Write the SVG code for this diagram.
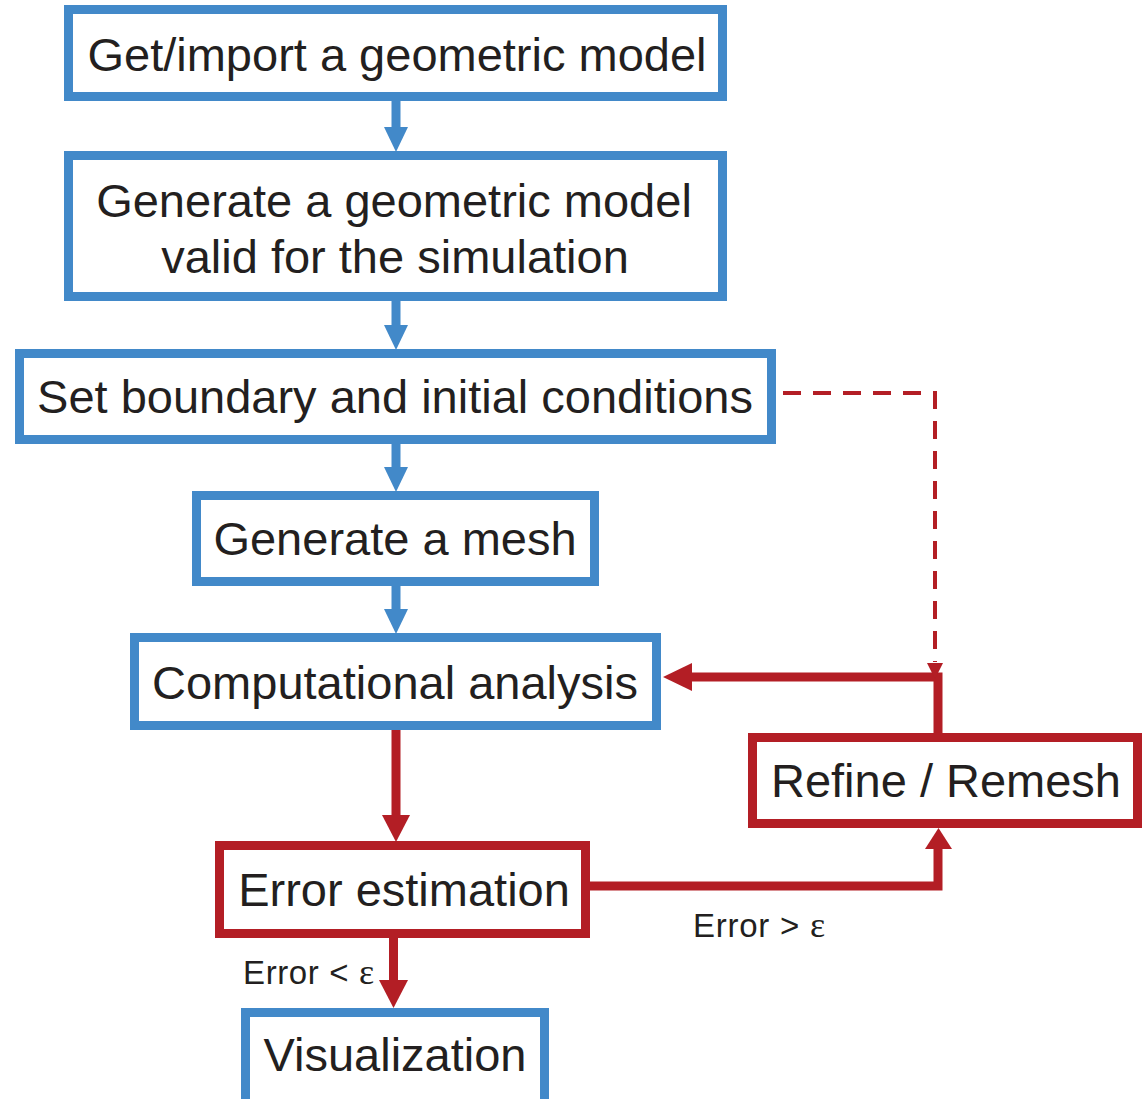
<svg xmlns="http://www.w3.org/2000/svg" width="1148" height="1099" viewBox="0 0 1148 1099">
<defs>
<style>
.box{fill:#fff;stroke-width:9}
.blue{stroke:#4289C9}
.red{stroke:#B31E25}
.t{font-family:"Liberation Sans",Arial,sans-serif;font-size:47px;fill:#231F20;text-anchor:middle}
.lbl{font-family:"Liberation Sans",Arial,sans-serif;font-size:33px;fill:#231F20}
.eps{font-family:"Liberation Serif","Times New Roman",serif;font-size:36px}
.cb{stroke:#4289C9;stroke-width:9;fill:none}
.cr{stroke:#B31E25;stroke-width:9;fill:none}
.fb{fill:#4289C9}
.fr{fill:#B31E25}
</style>
</defs>
<rect width="1148" height="1099" fill="#fff"/>
<g id="connectors">
<line class="cb" x1="396" y1="101" x2="396" y2="128"/>
<polygon class="fb" points="384,127 408,127 396,152"/>
<line class="cb" x1="396" y1="301" x2="396" y2="326"/>
<polygon class="fb" points="384,325 408,325 396,350"/>
<line class="cb" x1="396" y1="444" x2="396" y2="468"/>
<polygon class="fb" points="384,467 408,467 396,492"/>
<line class="cb" x1="396" y1="586" x2="396" y2="610"/>
<polygon class="fb" points="384,609 408,609 396,634"/>
<line class="cr" x1="396" y1="730" x2="396" y2="816"/>
<polygon class="fr" points="382,815 410,815 396,842"/>
<line class="cr" x1="393.5" y1="938" x2="393.5" y2="982"/>
<polygon class="fr" points="379,980 408,980 393.5,1008"/>
<polyline class="cr" points="590,886 938,886 938,848"/>
<polygon class="fr" points="925,849 952,849 938.5,828"/>
<polyline class="cr" points="938,733 938,677 690,677"/>
<polygon class="fr" points="692,663 692,691 663,677"/>
<polyline points="783,393 935,393 935,662" fill="none" stroke="#B31E25" stroke-width="4" stroke-dasharray="18,12"/>
<polygon class="fr" points="927,663 943,663 935,679"/>
</g>
<g id="n1"><rect class="box blue" x="68.5" y="9.5" width="654" height="87"/><text class="t" x="397" y="71">Get/import a geometric model</text></g>
<g id="n2"><rect class="box blue" x="68.5" y="155.5" width="654" height="141"/><text class="t" x="394" y="217">Generate a geometric model</text><text class="t" x="395" y="273">valid for the simulation</text></g>
<g id="n3"><rect class="box blue" x="19.5" y="353.5" width="752" height="86"/><text class="t" x="395" y="413">Set boundary and initial conditions</text></g>
<g id="n4"><rect class="box blue" x="196.5" y="495.5" width="398" height="86"/><text class="t" x="395" y="555">Generate a mesh</text></g>
<g id="n5"><rect class="box blue" x="134.5" y="637.5" width="522" height="88"/><text class="t" x="395" y="699">Computational analysis</text></g>
<g id="n6"><rect class="box red" x="752.5" y="737.5" width="385" height="86"/><text class="t" x="946" y="797">Refine / Remesh</text></g>
<g id="n7"><rect class="box red" x="219.5" y="845.5" width="366" height="88"/><text class="t" x="404" y="906">Error estimation</text></g>
<g id="n8"><rect class="box blue" x="245.5" y="1012.5" width="299" height="92"/><text class="t" x="395" y="1071">Visualization</text></g>
<g id="labels">
<text class="lbl" x="693" y="937" textLength="132" lengthAdjust="spacing">Error &gt; <tspan class="eps">ε</tspan></text>
<text class="lbl" x="243" y="984" textLength="131" lengthAdjust="spacing">Error &lt; <tspan class="eps">ε</tspan></text>
</g>
</svg>
